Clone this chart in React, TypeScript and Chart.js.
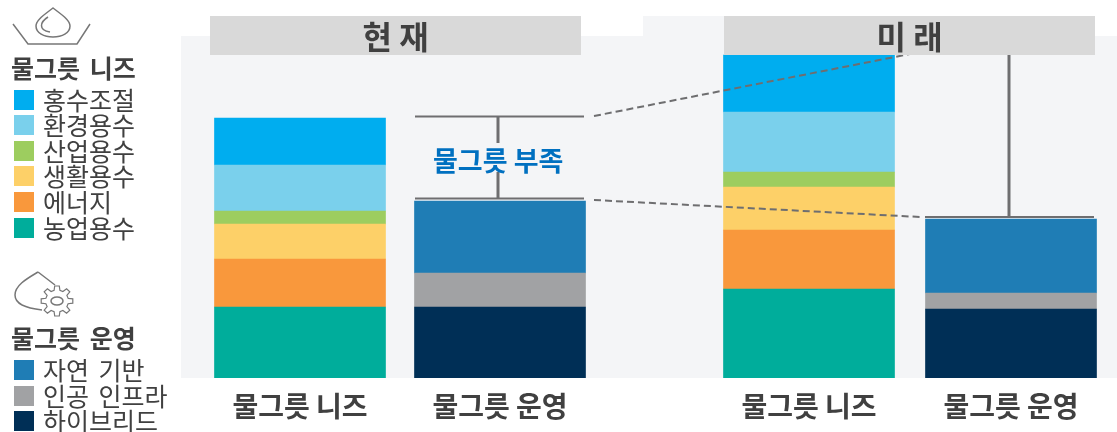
import React, { useEffect, useRef } from "react";
import { Chart, registerables } from "chart.js";

Chart.register(...registerables);

const FONT = '"Noto Sans CJK KR", "Noto Sans", sans-serif';
const TEXT = "#404040";

// bar slots on the x axis
const slots = [0, 1, 2.545, 3.555];
const tickLabels = ["물그릇 니즈", "물그릇 운영", "물그릇 니즈", "물그릇 운영"];

// needs stacks (present, future), bottom to top
const agriculture = [71, 89];
const energy = [48, 59];
const domestic = [35, 43];
const industrial = [13, 15];
const environment = [46, 60];
const flood = [47, 57];
// operation stacks (present, future), bottom to top
const hybrid = [71, 69];
const artificial = [34, 16];
const natural = [72, 74];

const needsNames = ["홍수조절", "환경용수", "산업용수", "생활용수", "에너지", "농업용수"];
const needsColors = ["#00adef", "#7ad0ec", "#9dcd5f", "#fdd068", "#f9983c", "#00ad9b"];
const opsNames = ["자연 기반", "인공 인프라", "하이브리드"];
const opsColors = ["#1f7db5", "#a1a2a4", "#002f56"];

const bracketColor = "#6e6e70";

function gearPath(cx: number, cy: number, rIn: number, rOut: number, teeth: number) {
  let d = "";
  const step = (Math.PI * 2) / teeth;
  for (let i = 0; i < teeth; i++) {
    const a = i * step;
    const pts = [
      [rIn, a - step * 0.32],
      [rOut, a - step * 0.18],
      [rOut, a + step * 0.18],
      [rIn, a + step * 0.32],
    ];
    pts.forEach(([r, t], j) => {
      d += `${i === 0 && j === 0 ? "M" : "L"}${(cx + r * Math.cos(t)).toFixed(1)} ${(cy + r * Math.sin(t) * 0.95).toFixed(1)} `;
    });
  }
  return d + "Z";
}

function needBar(label: string, values: number[], color: string) {
  return {
    type: "bar" as const,
    label,
    stack: "a",
    order: 1,
    backgroundColor: color,
    barThickness: 171,
    data: [
      { x: slots[0], y: values[0] },
      { x: slots[2], y: values[1] },
    ],
  };
}
function opBar(label: string, values: number[], color: string) {
  return {
    type: "bar" as const,
    label,
    stack: "a",
    order: 1,
    backgroundColor: color,
    barThickness: 171,
    data: [
      { x: slots[1], y: values[0] },
      { x: slots[3], y: values[1] },
    ],
  };
}
function rule(pts: number[][], width: number, dash: number[] = []) {
  return {
    type: "line" as const,
    order: 0,
    borderColor: bracketColor,
    borderWidth: width,
    borderDash: dash,
    pointRadius: 0,
    fill: false,
    tension: 0,
    data: pts.map(([x, y]) => ({ x, y })),
  };
}

function Swatches({ names, colors, tops }: { names: string[]; colors: string[]; tops: number[] }) {
  return (
    <>
      {names.map((n, i) => (
        <React.Fragment key={n}>
          <div style={{ position: "absolute", left: 14, top: tops[i], width: 20, height: 20, background: colors[i] }} />
          <div
            style={{
              position: "absolute",
              left: 43,
              top: tops[i] - 11.5,
              height: 40,
              lineHeight: "40px",
              fontSize: 25,
              wordSpacing: 4,
              color: TEXT,
              whiteSpace: "nowrap",
            }}
          >
            {n}
          </div>
        </React.Fragment>
      ))}
    </>
  );
}

function Header({ left, text }: { left: number; text: string }) {
  return (
    <div
      style={{
        position: "absolute",
        left,
        top: 16,
        width: 371,
        height: 39,
        lineHeight: "39px",
        background: "#d9d9d9",
        textAlign: "center",
        fontWeight: 700,
        fontSize: 32,
        color: TEXT,
      }}
    >
      {text}
    </div>
  );
}

export default function App() {
  const ref = useRef<HTMLCanvasElement>(null);
  useEffect(() => {
    const chart = new Chart(ref.current!, {
      type: "bar",
      data: {
        datasets: [
          needBar(needsNames[5], agriculture, needsColors[5]),
          needBar(needsNames[4], energy, needsColors[4]),
          needBar(needsNames[3], domestic, needsColors[3]),
          needBar(needsNames[2], industrial, needsColors[2]),
          needBar(needsNames[1], environment, needsColors[1]),
          needBar(needsNames[0], flood, needsColors[0]),
          opBar(opsNames[2], hybrid, opsColors[2]),
          opBar(opsNames[1], artificial, opsColors[1]),
          opBar(opsNames[0], natural, opsColors[0]),
          rule([[0.575, 261.5], [1.42, 261.5]], 2),
          rule([[0.575, 179.5], [1.42, 179.5]], 2),
          rule([[0.99, 261.5], [0.99, 235]], 3),
          rule([[0.99, 206], [0.99, 179.5]], 3),
          rule([[3.125, 161], [3.97, 161]], 2),
          rule([[3.545, 161], [3.545, 340]], 3),
          rule([[1.47, 262], [3.075, 325]], 2, [7, 4]),
          rule([[1.47, 178], [3.1, 161]], 2, [7, 4]),
        ] as any,
      },
      options: {
        animation: false,
        responsive: false,
        layout: { padding: 0 },
        plugins: { legend: { display: false }, tooltip: { enabled: false } },
        scales: {
          x: {
            type: "linear",
            offset: false,
            min: -1.5,
            max: 4.085,
            grid: { display: false, offset: false },
            border: { display: false },
            afterBuildTicks: (s: any) => {
              s.ticks = slots.map((value) => ({ value }));
            },
            afterFit: (s: any) => {
              s.height = 54;
              s.paddingLeft = 0;
              s.paddingRight = 0;
            },
            ticks: {
              autoSkip: false,
              maxRotation: 0,
              padding: 4,
              color: TEXT,
              font: { family: FONT, size: 28, weight: "bold" },
              callback: (_v: any, i: number) => tickLabels[i],
            },
          },
          y: { display: false, min: 0, max: 378 },
        },
      } as any,
    });
    return () => chart.destroy();
  }, []);

  return (
    <div style={{ position: "absolute", left: 0, top: 0, width: 1117, height: 432, overflow: "hidden", fontFamily: FONT, background: "#fff" }}>
      <div style={{ position: "absolute", left: 181, top: 36, width: 936, height: 342, background: "#f4f5f7" }} />
      <div style={{ position: "absolute", left: 643, top: 16, width: 100, height: 20, background: "#f4f5f7" }} />
      <canvas ref={ref} width={1117} height={432} style={{ position: "absolute", left: 0, top: 0, display: "block" }} />
      <Header left={210} text="현 재" />
      <Header left={724} text="미 래" />
      <div style={{ position: "absolute", left: 433, top: 142, height: 36, lineHeight: "36px", fontSize: 27, fontWeight: 700, color: "#0070c0", whiteSpace: "nowrap" }}>
        물그릇 부족
      </div>
      <svg width={110} height={340} style={{ position: "absolute", left: 0, top: 0 }} fill="none" stroke="#777" strokeWidth={1.5}>
        <path d="M13 24 L28 44 L77 44 L90 24" />
        <path d="M53 8 C44 15 36 20 36 26 C36 33 44 37 53 37 C62 37 70 33 70 26 C70 20 62 15 53 8 Z" />
        <path d="M48 17 C40 22 38 30 50 32" />
        <path d="M38 272 C28 278 15 285 15 295 C15 304 25 308 42 310 M38 272 L55 285" />
        <path d={gearPath(57, 301, 11.5, 16, 8)} strokeWidth={1.2} />
        <ellipse cx={57} cy={301} rx={6} ry={4} />
      </svg>
      <div style={{ position: "absolute", left: 11, top: 46.5, height: 40, lineHeight: "40px", fontSize: 25, fontWeight: 700, wordSpacing: 4, color: TEXT, whiteSpace: "nowrap" }}>물그릇 니즈</div>
      <div style={{ position: "absolute", left: 11, top: 316.5, height: 40, lineHeight: "40px", fontSize: 25, fontWeight: 700, wordSpacing: 4, color: TEXT, whiteSpace: "nowrap" }}>물그릇 운영</div>
      <Swatches names={needsNames} colors={needsColors} tops={[90, 115, 141, 166, 192, 218]} />
      <Swatches names={opsNames} colors={opsColors} tops={[360, 386, 411]} />
    </div>
  );
}
